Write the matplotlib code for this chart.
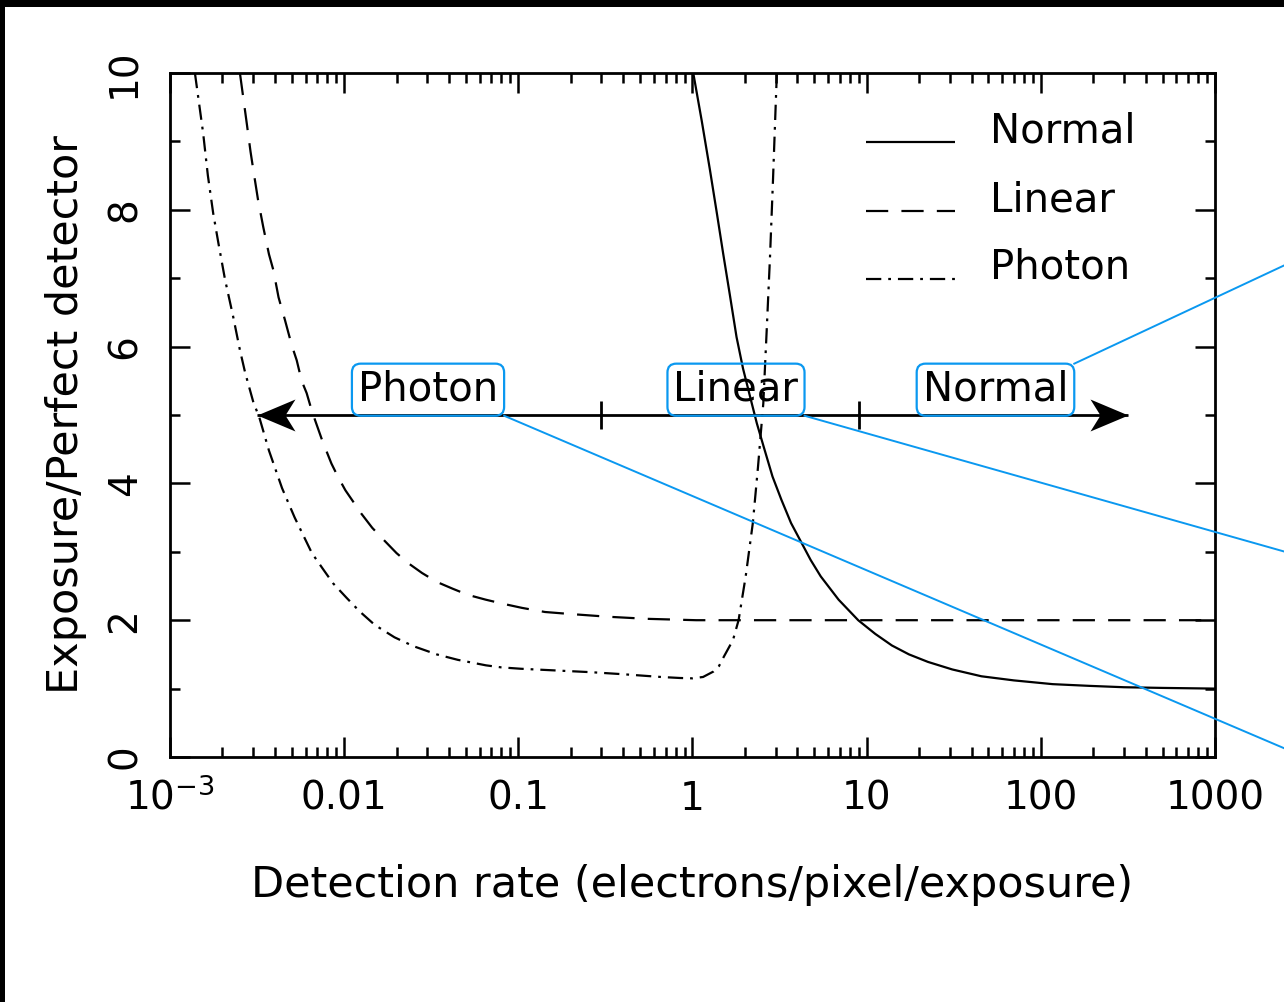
import numpy as np
import matplotlib
matplotlib.use('Agg')
import matplotlib.pyplot as plt
from matplotlib.path import Path
from matplotlib.lines import Line2D
from matplotlib.patches import Rectangle
from matplotlib.transforms import IdentityTransform
from matplotlib.ticker import LogLocator, MultipleLocator, NullFormatter, FixedLocator

# ---------------- data ----------------
normal_x = [1.01, 1.13, 1.26, 1.38, 1.50, 1.64, 1.79, 1.95, 2.14, 2.34, 2.56, 2.88, 3.24, 3.68,
            4.19, 4.77, 5.45, 6.9, 8.94, 11.2, 13.97, 17.5, 22.5, 31, 45.6, 70, 117, 190, 300, 500, 1000]
normal_y = [10.0, 9.30, 8.58, 7.95, 7.36, 6.75, 6.14, 5.68, 5.27, 4.88, 4.54, 4.10, 3.76, 3.42,
            3.15, 2.88, 2.64, 2.30, 2.0, 1.80, 1.63, 1.50, 1.39, 1.28, 1.18, 1.12, 1.065, 1.04, 1.02, 1.01, 1.0]

linear_x = [0.00252, 0.00276, 0.0029, 0.00301, 0.0032, 0.00343, 0.0037, 0.00392, 0.0042, 0.00457,
            0.005, 0.00534, 0.0057, 0.00609, 0.00654, 0.0075, 0.00845, 0.0092, 0.01016, 0.0115,
            0.01253, 0.0145, 0.01693, 0.02, 0.02344, 0.028, 0.034, 0.042, 0.0514, 0.065, 0.0817,
            0.105, 0.1422, 0.2, 0.33, 0.55, 1.05, 10, 100, 1000]
linear_y = [10.0, 9.26, 8.85, 8.58, 8.15, 7.75, 7.35, 7.12, 6.72, 6.39,
            6.02, 5.80, 5.50, 5.32, 5.05, 4.62, 4.29, 4.10, 3.90, 3.70,
            3.56, 3.35, 3.17, 2.98, 2.83, 2.69, 2.56, 2.46, 2.37, 2.30, 2.24,
            2.18, 2.12, 2.09, 2.05, 2.02, 2.0, 2.0, 2.0, 2.0]

photon_x = [0.00139, 0.00155, 0.00165, 0.00177, 0.0019, 0.00207, 0.0023, 0.00252, 0.0027, 0.0030,
            0.00327, 0.0037, 0.0044, 0.0052, 0.00653, 0.0075, 0.00863, 0.0103, 0.01225, 0.015,
            0.01945, 0.025, 0.034, 0.045, 0.0652, 0.08, 0.1035, 0.15, 0.261, 0.4, 0.659, 0.85,
            1.0, 1.15, 1.32, 1.42, 1.516, 1.708, 1.839, 2.02, 2.22, 2.377, 2.55, 2.667, 2.786,
            2.898, 3.05]
photon_y = [10.0, 9.12, 8.50, 7.95, 7.50, 6.98, 6.45, 5.95, 5.62, 5.20,
            4.95, 4.48, 3.93, 3.50, 2.98, 2.76, 2.54, 2.33, 2.13, 1.93,
            1.75, 1.62, 1.50, 1.42, 1.34, 1.31, 1.29, 1.27, 1.24, 1.21, 1.17, 1.155,
            1.15, 1.17, 1.25, 1.33, 1.47, 1.71, 2.0, 2.64, 3.42, 4.24, 5.17, 6.24, 7.31,
            8.43, 10.0]

series_names = ['Normal', 'Linear', 'Photon']

arrow_x = [0.00316, 316]          # extent of the double-headed arrow
arrow_y = 5.0
boundary_x = [0.3, 9.0]           # regime boundaries marked on the arrow
regime_labels = ['Photon', 'Linear', 'Normal']
regime_x = [0.0303, 1.777, 54.9]
regime_y = 5.37

xtick_vals = [1e-3, 1e-2, 1e-1, 1, 10, 100, 1000]
xtick_labels = [r'$\mathdefault{10^{-3}}$', '0.01', '0.1', '1', '10', '100', '1000']
ytick_vals = [0, 2, 4, 6, 8, 10]

BLUE = '#0a98f0'
W, H = 1284, 1002

plt.rcParams['font.family'] = ['DejaVu Sans']
plt.rcParams['mathtext.fontset'] = 'dejavusans'
plt.rcParams['lines.scale_dashes'] = False

fig = plt.figure(figsize=(W / 100, H / 100), dpi=100)
ax = fig.add_axes([170 / W, 1 - 757 / H, 1045 / W, 684 / H])

styles = {
    'Normal': dict(ls='-'),
    'Linear': dict(dashes=(16, 9.5)),
    'Photon': dict(dashes=(11, 5, 2, 5)),
}
data = {'Normal': (normal_x, normal_y), 'Linear': (linear_x, linear_y), 'Photon': (photon_x, photon_y)}
for name in series_names:
    xs, ys = data[name]
    ax.plot(xs, ys, color='black', lw=1.6, solid_capstyle='butt', solid_joinstyle='round', **styles[name])

ax.set_xscale('log')
ax.set_xlim(1e-3, 1e3)
ax.set_ylim(0, 10)

ax.xaxis.set_major_locator(FixedLocator(xtick_vals))
ax.set_xticklabels(xtick_labels)
ax.xaxis.set_minor_locator(LogLocator(base=10, subs=np.arange(2, 10), numticks=30))
ax.xaxis.set_minor_formatter(NullFormatter())
ax.yaxis.set_major_locator(FixedLocator(ytick_vals))
ax.yaxis.set_minor_locator(MultipleLocator(1))

for sp in ax.spines.values():
    sp.set_linewidth(2.0)

ax.tick_params(which='both', direction='in', top=True, right=True, width=1.8, colors='black')
ax.tick_params(which='major', length=14.4)
ax.tick_params(which='minor', length=7.2)
ax.tick_params(axis='x', labelsize=28, pad=38)
ax.tick_params(axis='y', labelsize=28, pad=19, labelrotation=90)
for lbl in ax.get_xticklabels():
    lbl.set_va('baseline')
for lbl in ax.get_yticklabels():
    lbl.set_va('center')
    lbl.set_ha('right')

ax.set_xlabel('Detection rate (electrons/pixel/exposure)', fontsize=31)
ax.xaxis.set_label_coords(0.5, -0.156)
ax.set_ylabel('Exposure/Perfect detector', fontsize=31, va='center')
ax.yaxis.set_label_coords(-0.0995, 0.5)

# double headed arrow
ax.plot(arrow_x, [arrow_y, arrow_y], color='black', lw=2.0, solid_capstyle='butt')
left_head = Path([(0, 0), (38, 16), (28, 0), (38, -16), (0, 0)],
                 [Path.MOVETO, Path.LINETO, Path.LINETO, Path.LINETO, Path.CLOSEPOLY])
right_head = Path([(0, 0), (-38, 16), (-28, 0), (-38, -16), (0, 0)],
                  [Path.MOVETO, Path.LINETO, Path.LINETO, Path.LINETO, Path.CLOSEPOLY])
ax.plot([arrow_x[0]], [arrow_y], ls='none', marker=left_head, ms=54.7, mfc='black', mec='black', mew=0)
ax.plot([arrow_x[1]], [arrow_y], ls='none', marker=right_head, ms=54.7, mfc='black', mec='black', mew=0)
ax.vlines(boundary_x, arrow_y - 0.21, arrow_y + 0.21, color='black', lw=2.0)

# regime labels in rounded blue boxes
texts = []
for lab, xv in zip(regime_labels, regime_x):
    t = ax.text(xv, regime_y, lab, ha='center', va='center', fontsize=29,
                bbox=dict(boxstyle='round,pad=0.15,rounding_size=0.22', fc='none', ec=BLUE, lw=1.6))
    texts.append(t)

# legend (drawn manually to keep handles on the text baseline)
leg_rows_y = [0.899, 0.798, 0.699]
for name, yy in zip(series_names, leg_rows_y):
    ax.plot([0.666, 0.751], [yy, yy], transform=ax.transAxes, color='black', lw=1.6,
            solid_capstyle='butt', **styles[name])
    ax.text(0.785, yy, name, transform=ax.transAxes, fontsize=29, va='baseline', ha='left')

# leader lines from the boxes off to the right edge
fig.canvas.draw()
leader_ends = {'Photon': (1300, H - 755), 'Linear': (1300, H - 556), 'Normal': (1300, H - 258)}
for t, lab in zip(texts, regime_labels):
    bb = t.get_bbox_patch().get_window_extent()
    if lab == 'Normal':
        x0, y0 = bb.x1, bb.y1
    else:
        x0, y0 = bb.x1, bb.y0
    x1, y1 = leader_ends[lab]
    fig.add_artist(Line2D([x0, x1], [y0, y1], transform=IdentityTransform(), color=BLUE, lw=1.4))

# black frame strips at top and left of the image
fig.add_artist(Rectangle((0, 1 - 7 / H), 1, 7 / H, transform=fig.transFigure, fc='black', ec='none', zorder=20))
fig.add_artist(Rectangle((0, 0), 5 / W, 1, transform=fig.transFigure, fc='black', ec='none', zorder=20))

fig.savefig('out.png', dpi=100, facecolor='white')
